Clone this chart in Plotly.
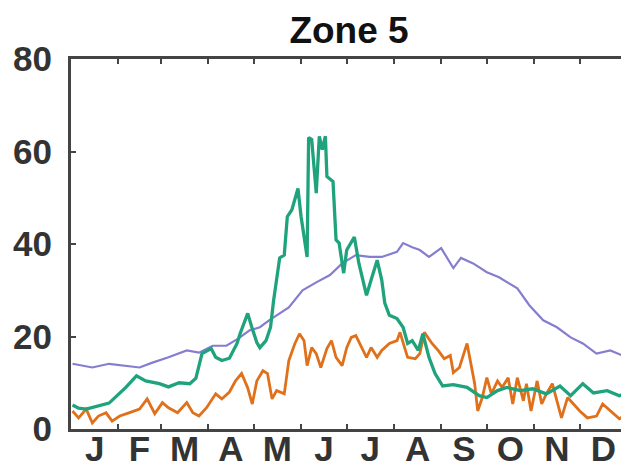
import plotly.graph_objects as go

# day of year / value pairs
green_days = [1, 5, 10, 25, 36, 43, 49, 58, 64, 71, 78, 82, 86, 92, 95, 99, 104, 109, 111, 116,
              119, 122, 124, 128, 131, 133, 137, 140, 142, 145, 149, 151, 155, 156, 158, 161, 163,
              165, 167, 168, 172, 174, 176, 179, 181, 186, 189, 194, 197, 201, 204, 206, 209, 214,
              218, 221, 224, 228, 231, 235, 239, 244, 251, 260, 268, 273, 280, 286, 295, 303, 312,
              321, 328, 336, 343, 352, 360, 365]
green_vals = [5.2, 4.5, 4.3, 5.6, 9.0, 11.5, 10.4, 9.8, 9.1, 10.0, 9.8, 11.0, 16.3, 17.4, 15.5, 14.8,
              15.3, 18.5, 20.6, 25.0, 21.7, 18.7, 17.6, 19.1, 22.0, 27.8, 37.0, 37.6, 45.9, 47.4, 52.0,
              46.0, 37.2, 63.0, 62.6, 51.0, 63.3, 60.4, 63.3, 54.6, 53.5, 40.9, 40.2, 33.7, 38.7, 41.5,
              35.8, 28.9, 32.2, 36.5, 32.2, 27.2, 24.6, 23.9, 22.0, 18.5, 19.1, 17.0, 20.6, 15.5, 12.0,
              9.3, 9.6, 9.0, 7.2, 6.8, 8.3, 9.0, 8.3, 8.7, 7.6, 9.3, 7.2, 9.8, 7.8, 8.3, 7.2, 7.6]

orange_days = [1, 5, 10, 14, 18, 23, 27, 32, 38, 45, 50, 55, 60, 64, 70, 76, 80, 84, 89, 95, 99,
               104, 108, 112, 116, 119, 122, 126, 129, 132, 135, 140, 143, 147, 150, 153, 155, 158,
               161, 164, 168, 171, 174, 178, 181, 184, 187, 191, 194, 197, 201, 204, 209, 214, 216,
               219, 221, 226, 229, 232, 237, 241, 245, 249, 251, 255, 260, 263, 265, 267, 270, 273,
               276, 280, 283, 287, 290, 293, 297, 299, 302, 306, 309, 312, 316, 319, 322, 326, 330,
               334, 339, 345, 349, 354, 360, 365]
orange_vals = [3.9, 2.4, 4.3, 1.3, 2.8, 3.5, 1.7, 2.8, 3.5, 4.3, 6.5, 3.3, 5.7, 4.6, 3.5, 5.7, 3.5,
               2.8, 4.6, 7.6, 6.5, 8.0, 10.4, 12.0, 8.9, 5.4, 10.4, 12.6, 12.0, 6.5, 8.3, 7.6, 14.8,
               18.5, 20.6, 19.1, 13.7, 17.6, 16.3, 13.3, 17.4, 19.1, 15.5, 13.7, 17.6, 19.8, 20.2,
               17.4, 15.5, 17.6, 15.5, 17.0, 18.5, 19.1, 20.9, 17.6, 15.5, 15.2, 16.3, 20.9, 18.5,
               17.0, 15.2, 15.9, 12.2, 13.3, 18.5, 13.3, 9.8, 3.9, 6.8, 11.1, 7.6, 10.4, 9.0, 11.1,
               5.4, 11.1, 6.1, 9.8, 3.9, 10.4, 5.4, 7.6, 9.8, 6.1, 2.4, 6.8, 5.4, 3.9, 2.4, 2.8, 5.4,
               3.9, 2.2, 3.3]

purple_days = [1, 14, 25, 36, 45, 53, 64, 76, 84, 93, 102, 110, 117, 124, 130, 143, 152, 161, 170,
               178, 187, 196, 204, 214, 218, 224, 229, 235, 243, 251, 256, 264, 273, 281, 293, 301,
               310, 319, 328, 336, 345, 354, 362, 365]
purple_vals = [14.1, 13.3, 14.1, 13.7, 13.3, 14.3, 15.5, 17.0, 16.5, 18.0, 18.0, 19.6, 21.3, 22.0,
               23.5, 26.3, 30.0, 31.7, 33.3, 35.8, 37.6, 37.2, 37.2, 38.3, 40.2, 39.3, 38.7, 37.2,
               39.1, 34.8, 37.0, 35.8, 33.9, 32.8, 30.4, 26.7, 23.5, 22.0, 19.8, 18.5, 16.3, 17.0,
               15.9, 15.9]

month_labels = ["J", "F", "M", "A", "M", "J", "J", "A", "S", "O", "N", "D"]
month_mid = [15.5, 45, 74.5, 105, 135.5, 166, 196.5, 227.5, 258, 288.5, 319, 349.5]
month_edges = [31, 59, 90, 120, 151, 181, 212, 243, 273, 304, 334]

fig = go.Figure()
fig.add_trace(go.Scatter(x=purple_days, y=purple_vals, mode="lines",
                         line=dict(color="#857ed0", width=2.2)))
fig.add_trace(go.Scatter(x=orange_days, y=orange_vals, mode="lines",
                         line=dict(color="#e0701a", width=2.8)))
fig.add_trace(go.Scatter(x=green_days, y=green_vals, mode="lines",
                         line=dict(color="#1fa37c", width=3.3)))
# empty trace so the label axis gets drawn
fig.add_trace(go.Scatter(x=[], y=[], xaxis="x2", hoverinfo="skip"))

tick_font = dict(family="Liberation Sans", size=35, color="#333333", weight="bold")

# page body has an 8px margin, so the figure is 8px smaller than the window
fig.update_layout(
    width=621, height=462,
    margin=dict(l=63, r=2, t=51, b=41),
    paper_bgcolor="white", plot_bgcolor="white",
    showlegend=False,
    title=dict(text="Zone 5", x=0.5, xref="paper", xanchor="center", y=0.952, yanchor="middle",
               font=dict(family="Liberation Sans", size=37, color="#111111", weight="bold")),
    xaxis=dict(range=[0, 365], showticklabels=False, ticks="", showgrid=False, zeroline=False,
               automargin=False, showline=True, linecolor="#444444", linewidth=3, mirror="ticks",
               tickvals=[],
               minor=dict(tickmode="array", tickvals=month_edges, ticks="inside",
                          ticklen=5, tickwidth=2, tickcolor="#444444", showgrid=False)),
    xaxis2=dict(range=[0, 365], overlaying="x", anchor="free", position=0.011, side="bottom",
                tickmode="array", tickvals=month_mid, ticktext=month_labels, ticks="",
                tickfont=tick_font, showgrid=False, zeroline=False, showline=False,
                automargin=False),
    yaxis=dict(range=[0, 80], tickvals=[0, 20, 40, 60, 80], ticks="inside", ticklen=5,
               tickwidth=2, tickcolor="#444444", tickfont=tick_font, showgrid=False,
               zeroline=False, showline=True, linecolor="#444444", linewidth=3, automargin=False,
               mirror="ticks", ticklabelstandoff=9),
)

fig.write_html("out.html")
